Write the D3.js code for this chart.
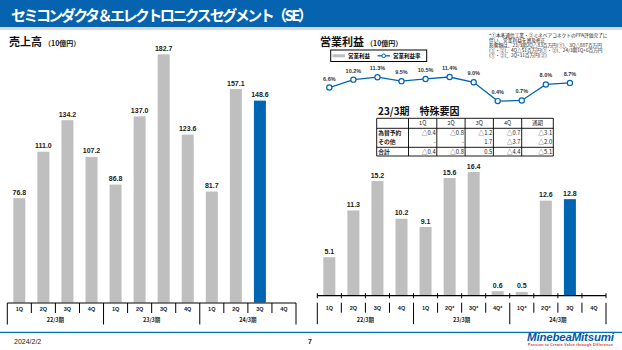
<!DOCTYPE html>
<html>
<head>
<meta charset="utf-8">
<script src="https://cdn.jsdelivr.net/npm/d3@7"></script>
<style>
  body { margin: 0; background: #fff; }
  text { font-family: "Liberation Sans", "Noto Sans CJK JP", sans-serif; }
  .jp { font-family: "Noto Sans CJK JP", sans-serif; }
</style>
</head>
<body>
<div id="viz"></div>
<script>
// quarter slots (12 per chart), fiscal years
const quarters = ["1Q", "2Q", "3Q", "4Q", "1Q", "2Q", "3Q", "4Q", "1Q", "2Q", "3Q", "4Q"];
const opQuarters = ["1Q", "2Q", "3Q", "4Q", "1Q", "2Q*", "3Q*", "4Q*", "1Q*", "2Q*", "3Q", "4Q"];
const years = ["22/3期", "23/3期", "24/3期"];

// 売上高 (10億円)
const salesValues = [76.8, 111.0, 134.2, 107.2, 86.8, 137.0, 182.7, 123.6, 81.7, 157.1, 148.6];
// 営業利益 (10億円)
const opValues = [5.1, 11.3, 15.2, 10.2, 9.1, 15.6, 16.4, 0.6, 0.5, 12.6, 12.8];
// 営業利益率 (%)
const marginValues = [6.6, 10.2, 11.3, 9.5, 10.5, 11.4, 9.0, 0.4, 0.7, 8.0, 8.7];

// 23/3期 特殊要因 table
const tableHeader = ["", "1Q", "2Q", "3Q", "4Q", "通期"];
const tableRows = [
    ["為替予約", "△0.4", "△0.8", "△1.2", "△0.7", "△3.1"],
    ["その他", "-", "-", "1.7", "△3.7", "△2.0"],
    ["合計", "△0.4", "△0.8", "0.5", "△4.4", "△5.1"]
];

const noteLines = [
    "*①本多通信工業・②ミネベアコネクトのPPA評価完了に",
    "伴い、営業利益を遡及修正",
    "影響額は、23/3期2Q△83百万円(①)、3Q△807百万円",
    "(①・②)、4Q△51百万円(①・②)、24/3期1Q+6百万円",
    "(①・②)、2Q+31百万円(②)"
];

const width = 622, height = 350;
const gray = "#bfbfbf", blue = "#0066b3", headerBlue = "#0563b0";

const svg = d3.select("#viz").append("svg")
    .attr("width", width)
    .attr("height", height);

// header
svg.append("rect").attr("x", 0).attr("y", 0).attr("width", width).attr("height", 27).attr("fill", headerBlue);
svg.append("rect").attr("x", 0).attr("y", 27).attr("width", width).attr("height", 3).attr("fill", "#d9d9d9");
svg.append("text").attr("class", "jp")
    .attr("x", 11).attr("y", 20.5)
    .attr("fill", "#fff").attr("font-size", 15).attr("font-weight", "bold")
    .attr("textLength", 302)
    .text("セミコンダクタ＆エレクトロニクス セグメント（SE）");

function chartTitle(x, main) {
    const t = svg.append("text").attr("class", "jp")
        .attr("x", x).attr("y", 46).attr("fill", "#111").attr("font-weight", "bold");
    t.append("tspan").attr("font-size", 11).text(main);
    t.append("tspan").attr("font-size", 7).attr("dx", 2).text("（10億円）");
}
chartTitle(9, "売上高");
chartTitle(320, "営業利益");

// bottom quarter/year table under each bar chart
function drawPeriodAxis(x, axisY, rowTop, labels, crossTicks) {
    const edges = d3.range(13).map(i => i < 12 ? x(i) : x.range()[1]);
    const g = svg.append("g").attr("stroke", "#000");
    g.append("line").attr("x1", edges[0]).attr("x2", edges[12])
        .attr("y1", axisY).attr("y2", axisY).attr("stroke-width", 1.2);
    edges.forEach((e, i) => {
        if (crossTicks) {
            g.append("line").attr("x1", e).attr("x2", e)
                .attr("y1", axisY - 2.5).attr("y2", axisY + 2.5).attr("stroke-width", 1);
        }
        g.append("line").attr("x1", e).attr("x2", e)
            .attr("y1", rowTop).attr("y2", i % 4 === 0 ? rowTop + 21.5 : rowTop + 10)
            .attr("stroke-width", 1);
    });
    svg.append("g").selectAll("text")
        .data(labels)
        .join("text")
            .attr("x", (d, i) => x(i) + x.bandwidth() / 2)
            .attr("y", rowTop + 7.5)
            .attr("text-anchor", "middle")
            .attr("font-size", 5.5).attr("font-weight", "bold").attr("fill", "#222")
            .text(d => d);
    svg.append("g").selectAll("text")
        .data(years)
        .join("text")
            .attr("class", "jp")
            .attr("x", (d, i) => (edges[i * 4] + edges[i * 4 + 4]) / 2)
            .attr("y", rowTop + 19)
            .attr("text-anchor", "middle")
            .attr("font-size", 5.5).attr("font-weight", "bold").attr("fill", "#222")
            .text(d => d);
}

function drawBars(x, y, values, fmt) {
    const bw = 12;
    const g = svg.append("g");
    g.selectAll("rect")
        .data(values)
        .join("rect")
            .attr("x", (d, i) => x(i) + x.bandwidth() / 2 - bw / 2)
            .attr("y", d => y(d))
            .attr("width", bw)
            .attr("height", d => y(0) - y(d))
            .attr("fill", (d, i) => i === values.length - 1 ? blue : gray);
    g.selectAll("text")
        .data(values)
        .join("text")
            .attr("x", (d, i) => x(i) + x.bandwidth() / 2)
            .attr("y", d => y(d) - 3.5)
            .attr("text-anchor", "middle")
            .attr("font-size", 7).attr("font-weight", "bold").attr("fill", "#222")
            .text(d => fmt(d));
}

// left: sales
const xL = d3.scaleBand().domain(d3.range(12)).range([7.3, 296]).padding(0);
const yL = d3.scaleLinear().domain([0, 182.7]).range([302.5, 54.3]);
drawBars(xL, yL, salesValues, d3.format(".1f"));
drawPeriodAxis(xL, 303, 303, quarters, false);

// right: operating income
const xR = d3.scaleBand().domain(d3.range(12)).range([317.3, 606]).padding(0);
const yR = d3.scaleLinear().domain([0, 16.4]).range([295.7, 172]);
drawBars(xR, yR, opValues, d3.format(".1f"));
drawPeriodAxis(xR, 295.7, 302.7, opQuarters, true);

// margin line
const yM = d3.scaleLinear().domain([0, 11.4]).range([102, 77]);
const line = d3.line()
    .x((d, i) => xR(i) + xR.bandwidth() / 2)
    .y(d => yM(d));
svg.append("path")
    .datum(marginValues)
    .attr("d", line)
    .attr("fill", "none").attr("stroke", blue).attr("stroke-width", 1.3);
svg.append("g").selectAll("circle")
    .data(marginValues)
    .join("circle")
        .attr("cx", (d, i) => xR(i) + xR.bandwidth() / 2)
        .attr("cy", d => yM(d))
        .attr("r", 2.6)
        .attr("fill", "#fff").attr("stroke", blue).attr("stroke-width", 1.2);
svg.append("g").selectAll("text")
    .data(marginValues)
    .join("text")
        .attr("x", (d, i) => xR(i) + xR.bandwidth() / 2)
        .attr("y", d => yM(d) - 7)
        .attr("text-anchor", "middle")
        .attr("font-size", 5.5).attr("font-weight", "bold").attr("fill", "#333")
        .text(d => d3.format(".1f")(d) + "%");

// legend
const lg = svg.append("g");
lg.append("rect").attr("x", 330.7).attr("y", 50).attr("width", 96).attr("height", 11.5)
    .attr("fill", "#fff").attr("stroke", "#000").attr("stroke-width", 1);
lg.append("rect").attr("x", 332.5).attr("y", 54.3).attr("width", 12.5).attr("height", 3).attr("fill", gray);
lg.append("text").attr("class", "jp").attr("x", 348).attr("y", 58)
    .attr("font-size", 5.5).attr("font-weight", "bold").text("営業利益");
lg.append("line").attr("x1", 377.5).attr("x2", 390).attr("y1", 55.8).attr("y2", 55.8)
    .attr("stroke", blue).attr("stroke-width", 1.3);
lg.append("circle").attr("cx", 383.7).attr("cy", 55.8).attr("r", 1.8)
    .attr("fill", "#fff").attr("stroke", blue).attr("stroke-width", 1);
lg.append("text").attr("class", "jp").attr("x", 393).attr("y", 58)
    .attr("font-size", 5.5).attr("font-weight", "bold").text("営業利益率");

// note
svg.append("g").selectAll("text")
    .data(noteLines)
    .join("text")
        .attr("class", "jp")
        .attr("x", 489)
        .attr("y", (d, i) => 37 + i * 5)
        .attr("font-size", 4.7).attr("fill", "#222")
        .text(d => d);

// special factors table
svg.append("text").attr("class", "jp")
    .attr("x", 378).attr("y", 114.5)
    .attr("font-size", 10).attr("font-weight", "bold").attr("fill", "#111")
    .text("23/3期　特殊要因");

const colX = d3.scaleLinear().domain([0, 1, 5, 6]).range([376.7, 408.5, 521.7, 553.3]);
const rowY = [118.3, 128.3, 137.8, 147.3, 156];
const tg = svg.append("g");
d3.range(7).forEach(c => {
    tg.append("line").attr("x1", colX(c)).attr("x2", colX(c))
        .attr("y1", rowY[0]).attr("y2", rowY[4]).attr("stroke", "#000").attr("stroke-width", 0.9);
});
[0, 1, 3, 4].forEach(r => {
    tg.append("line").attr("x1", colX(0)).attr("x2", colX(6))
        .attr("y1", rowY[r]).attr("y2", rowY[r]).attr("stroke", "#000").attr("stroke-width", 0.9);
});
tg.selectAll(".th")
    .data(tableHeader)
    .join("text")
        .attr("class", "th jp")
        .attr("x", (d, i) => (colX(i) + colX(i + 1)) / 2)
        .attr("y", rowY[1] - 3)
        .attr("text-anchor", "middle")
        .attr("font-size", 5.5).attr("fill", "#222")
        .text(d => d);
tableRows.forEach((row, r) => {
    tg.selectAll(".tr" + r)
        .data(row)
        .join("text")
            .attr("class", "tr" + r + " jp")
            .attr("x", (d, i) => i === 0 ? colX(0) + 1.5 : colX(i + 1) - 1.2)
            .attr("y", rowY[r + 1] + 6.6)
            .attr("text-anchor", (d, i) => i === 0 ? "start" : "end")
            .attr("font-size", 5.8).attr("fill", "#222")
            .attr("font-weight", (d, i) => i === 0 ? "bold" : "normal")
            .text(d => d);
});

// footer
svg.append("line").attr("x1", 0).attr("x2", width).attr("y1", 332.3).attr("y2", 332.3)
    .attr("stroke", "#0070c0").attr("stroke-width", 1.3);
svg.append("text").attr("x", 14).attr("y", 343.5).attr("font-size", 7).attr("fill", "#222").text("2024/2/2");
svg.append("text").attr("x", 308).attr("y", 343.5).attr("font-size", 7).attr("font-weight", "bold").attr("fill", "#222").text("7");
svg.append("text").attr("x", 527).attr("y", 341)
    .attr("font-size", 11.5).attr("font-weight", "bold").attr("font-style", "italic")
    .attr("fill", "#0058ab").attr("textLength", 87).text("MinebeaMitsumi");
svg.append("text").attr("x", 528).attr("y", 346)
    .attr("font-size", 3.6).attr("font-weight", "bold").attr("fill", "#d9323a")
    .attr("textLength", 85).text("Passion to Create Value through Difference");
</script>
</body>
</html>
